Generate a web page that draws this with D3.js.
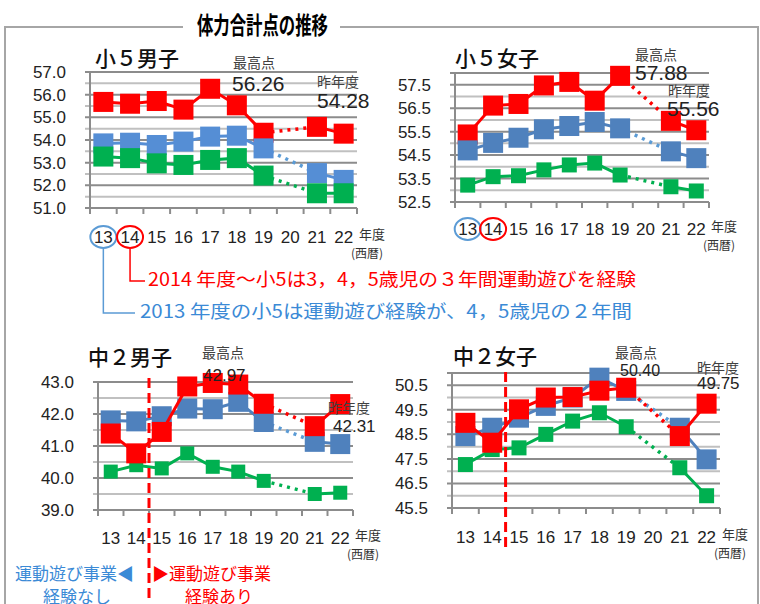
<!DOCTYPE html>
<html>
<head>
<meta charset="utf-8">
<script src="https://cdn.jsdelivr.net/npm/d3@7.9.0/dist/d3.min.js"></script>
<style>
  body { margin: 0; background: #fff; }
  svg { display: block; }
  text { font-family: "Liberation Sans", Arial, sans-serif; }
  .jp { font-family: "Noto Sans CJK JP", sans-serif; }
</style>
</head>
<body>
<svg id="chart" width="760" height="604"></svg>
<script>
// years (西暦 下2桁), 20 = no survey
const years = ['13', '14', '15', '16', '17', '18', '19', '20', '21', '22'];

// 小5男子
const e5BoysRed = [55.68, 55.6, 55.72, 55.34, 56.26, 55.53, 54.32, null, 54.58, 54.28];
const e5BoysBlue = [53.85, 53.88, 53.78, 53.93, 54.15, 54.19, 53.63, null, 52.54, 52.24];
const e5BoysGreen = [53.27, 53.2, 52.97, 52.9, 53.12, 53.2, 52.43, null, 51.65, 51.65];
// 小5女子
const e5GirlsRed = [55.38, 56.61, 56.68, 57.47, 57.62, 56.82, 57.88, null, 55.96, 55.56];
const e5GirlsBlue = [54.7, 55.02, 55.24, 55.6, 55.74, 55.91, 55.64, null, 54.66, 54.37];
const e5GirlsGreen = [53.22, 53.58, 53.62, 53.87, 54.08, 54.16, 53.65, null, 53.15, 52.97];
// 中2男子
const j2BoysRed = [41.39, 40.77, 41.44, 42.86, 42.97, 42.92, 42.32, null, 41.62, 42.31];
const j2BoysBlue = [41.8, 41.77, 41.93, 42.17, 42.15, 42.38, 41.75, null, 41.13, 41.06];
const j2BoysGreen = [40.2, 40.4, 40.3, 40.77, 40.35, 40.2, 39.91, null, 39.5, 39.54];
// 中2女子
const j2GirlsRed = [48.97, 48.16, 49.52, 50.0, 50.02, 50.28, 50.40, null, 48.43, 49.75];
const j2GirlsBlue = [48.43, 48.77, 49.18, 49.66, 50.0, 50.81, 50.27, null, 48.77, 47.48];
const j2GirlsGreen = [47.27, 47.88, 47.95, 48.5, 49.04, 49.38, 48.81, null, 47.14, 46.0];

// y axis labels per panel
const e5BoysTicks = [51, 52, 53, 54, 55, 56, 57];
const e5GirlsTicks = [52.5, 53.5, 54.5, 55.5, 56.5, 57.5];
const j2BoysTicks = [39, 40, 41, 42, 43];
const j2GirlsTicks = [45.5, 46.5, 47.5, 48.5, 49.5, 50.5];

const RED = '#ff0000', BLUE = '#4f81bd', GREEN = '#00b050';
const svg = d3.select('#chart');

// frame + title
const frame = svg.append('g').attr('stroke', '#a6a6a6').attr('stroke-width', 2).attr('fill', 'none');
frame.append('path').attr('d', 'M183,27 H5 V610');
frame.append('path').attr('d', 'M340,27 H758 V610');
svg.append('text').attr('class', 'jp')
  .attr('x', 197).attr('y', 34)
  .attr('font-size', 24).attr('font-weight', 'bold')
  .attr('textLength', 131).attr('lengthAdjust', 'spacingAndGlyphs')
  .text('体力合計点の推移');

const panels = [
  { title: '小５男子', red: e5BoysRed, blue: e5BoysBlue, green: e5BoysGreen, ticks: e5BoysTicks,
    domain: [51, 57], x0: 90, x1: 357, yTop: 72, yBot: 208, greenSize: 20, blueColor: '#558ed5',
    order: ['red', 'blue', 'green'], titleX: 95, titleY: 66, labelY: 243 },
  { title: '小５女子', red: e5GirlsRed, blue: e5GirlsBlue, green: e5GirlsGreen, ticks: e5GirlsTicks,
    domain: [52.5, 58], x0: 455, x1: 709, yTop: 73, yBot: 202, greenSize: 15, blueColor: BLUE,
    order: ['red', 'green', 'blue'], titleX: 455, titleY: 66, labelY: 235 },
  { title: '中２男子', red: j2BoysRed, blue: j2BoysBlue, green: j2BoysGreen, ticks: j2BoysTicks,
    domain: [39, 43], x0: 98, x1: 353, yTop: 382, yBot: 510, greenSize: 14, blueColor: BLUE,
    order: ['blue', 'green', 'red'], titleX: 88, titleY: 365, labelY: 544, split: [378, 600] },
  { title: '中２女子', red: j2GirlsRed, blue: j2GirlsBlue, green: j2GirlsGreen, ticks: j2GirlsTicks,
    domain: [45.5, 51], x0: 452, x1: 720, yTop: 373, yBot: 508, greenSize: 15, blueColor: BLUE,
    order: ['blue', 'green', 'red'], titleX: 453, titleY: 364, labelY: 543, split: [372, 552] }
];

function drawPanel(p) {
  const g = svg.append('g');
  const x = d3.scaleBand().domain(years).range([p.x0, p.x1]);
  const y = d3.scaleLinear().domain(p.domain).range([p.yBot, p.yTop]);

  // gridlines every 0.5
  const grid = d3.range(p.domain[0], p.domain[1] + 0.01, 0.5);
  g.selectAll('.grid').data(grid).join('line')
    .attr('x1', p.x0 - 5).attr('x2', p.x1)
    .attr('y1', d => y(d)).attr('y2', d => y(d))
    .attr('stroke', d => p.ticks.some(t => Math.abs(t - d) < 1e-6) || d === p.domain[1] ? '#8c8c8c' : '#c0c0c0')
    .attr('stroke-width', 2);

  // y axis line
  g.append('line').attr('x1', p.x0).attr('x2', p.x0).attr('y1', p.yTop).attr('y2', p.yBot)
    .attr('stroke', '#8c8c8c').attr('stroke-width', 2);
  // x axis line + boundary ticks
  g.append('line').attr('x1', p.x0).attr('x2', p.x1).attr('y1', p.yBot).attr('y2', p.yBot)
    .attr('stroke', '#8c8c8c').attr('stroke-width', 2);
  const bounds = years.map(d => x(d)).concat([p.x1]);
  g.selectAll('.xt').data(bounds).join('line')
    .attr('x1', d => d).attr('x2', d => d).attr('y1', p.yBot).attr('y2', p.yBot + 6)
    .attr('stroke', '#8c8c8c').attr('stroke-width', 2);

  // y tick labels
  g.selectAll('.yl').data(p.ticks).join('text')
    .attr('x', p.x0 - 24).attr('y', d => y(d) + 6)
    .attr('text-anchor', 'end').attr('font-size', 17).attr('fill', '#222')
    .text(d => d3.format('.1f')(d));

  // x labels
  g.selectAll('.xl').data(years).join('text')
    .attr('x', d => x(d) + x.bandwidth() / 2).attr('y', p.labelY)
    .attr('text-anchor', 'middle').attr('font-size', 17).attr('fill', '#222')
    .text(d => d);
  g.append('text').attr('class', 'jp').attr('x', p.x1 + 2).attr('y', p.labelY - 4)
    .attr('font-size', 13).attr('fill', '#333').text('年度');
  g.append('text').attr('class', 'jp').attr('x', p.x1 - 6).attr('y', p.labelY + 15)
    .attr('font-size', 12).attr('fill', '#333').text('(西暦)');

  // title
  g.append('text').attr('class', 'jp').attr('x', p.titleX).attr('y', p.titleY)
    .attr('font-size', 21).attr('font-weight', 500).attr('fill', '#111').text(p.title);

  const cx = d => x(d.year) + x.bandwidth() / 2;
  const series = {
    red: { vals: p.red, color: RED, size: 20 },
    blue: { vals: p.blue, color: p.blueColor, size: 20 },
    green: { vals: p.green, color: GREEN, size: p.greenSize }
  };

  p.order.forEach(key => {
    const s = series[key];
    const pts = years.map((yr, i) => ({ year: yr, v: s.vals[i] }));
    const line = d3.line().defined(d => d.v != null).x(cx).y(d => y(d.v));
    // dotted bridge 19 -> 21
    const bridge = pts.filter(d => d.year === '19' || d.year === '21');
    g.append('path').attr('d', d3.line().x(cx).y(d => y(d.v))(bridge))
      .attr('fill', 'none').attr('stroke', key === 'blue' ? '#5b9bd5' : s.color)
      .attr('stroke-width', 3.5).attr('stroke-dasharray', '3,5');
    g.append('path').attr('d', line(pts))
      .attr('fill', 'none').attr('stroke', s.color).attr('stroke-width', 3);
    g.selectAll('.m' + key).data(pts.filter(d => d.v != null)).join('rect')
      .attr('x', d => cx(d) - s.size / 2).attr('y', d => y(d.v) - s.size / 2)
      .attr('width', s.size).attr('height', s.size)
      .attr('fill', s.color);
  });

  if (p.split) {
    const sx = x('15');
    g.append('line').attr('x1', sx).attr('x2', sx).attr('y1', p.split[0]).attr('y2', p.split[1])
      .attr('stroke', RED).attr('stroke-width', 3).attr('stroke-dasharray', '10,5');
  }
  return { x, y };
}

const scales = panels.map(drawPanel);

// annotations: 最高点 / 昨年度
function note(x0, y0, label, value, valSize, lx, ly) {
  svg.append('text').attr('class', 'jp').attr('x', x0).attr('y', y0)
    .attr('font-size', 14).attr('fill', '#404040').text(label);
  svg.append('text').attr('x', lx).attr('y', ly)
    .attr('font-size', valSize).attr('fill', '#222').text(value);
}
note(233, 68, '最高点', '56.26', 21, 232, 91);
note(317, 87, '昨年度', '54.28', 21, 317, 108);
note(635, 60, '最高点', '57.88', 21, 635, 80);
note(668, 96, '昨年度', '55.56', 21, 667, 116);
note(202, 358, '最高点', '42.97', 17, 203, 381);
note(328, 413, '昨年度', '42.31', 17, 333, 432);
note(615, 358, '最高点', '50.40', 16, 620, 376);
note(697, 373, '昨年度', '49.75', 17, 697, 389);

// circles around 13 / 14 in 小5 panels
[0, 1].forEach(i => {
  const { x } = scales[i];
  const cy = panels[i].labelY - 6;
  svg.append('ellipse').attr('cx', x('13') + x.bandwidth() / 2).attr('cy', cy)
    .attr('rx', 13).attr('ry', 11).attr('fill', 'none').attr('stroke', '#5b9bd5').attr('stroke-width', 2);
  svg.append('ellipse').attr('cx', x('14') + x.bandwidth() / 2).attr('cy', cy)
    .attr('rx', 13).attr('ry', 11).attr('fill', 'none').attr('stroke', RED).attr('stroke-width', 2);
});

// connectors + explanation
const x1 = scales[0].x;
const c13 = x1('13') + x1.bandwidth() / 2, c14 = x1('14') + x1.bandwidth() / 2;
svg.append('path').attr('d', `M${c14},249 V281 H145`).attr('fill', 'none').attr('stroke', RED).attr('stroke-width', 1.5);
svg.append('path').attr('d', `M${c13},249 V313 H135`).attr('fill', 'none').attr('stroke', '#5b9bd5').attr('stroke-width', 1.5);
svg.append('text').attr('class', 'jp').attr('x', 148).attr('y', 286)
  .attr('font-size', 18).attr('fill', RED)
  .attr('textLength', 488).attr('lengthAdjust', 'spacingAndGlyphs')
  .text('2014 年度～小5は3，4，5歳児の３年間運動遊びを経験');
svg.append('text').attr('class', 'jp').attr('x', 140).attr('y', 318)
  .attr('font-size', 18).attr('fill', '#3b8ad6')
  .attr('textLength', 492).attr('lengthAdjust', 'spacingAndGlyphs')
  .text('2013 年度の小5は運動遊び経験が、4，5歳児の２年間');

// 運動遊び事業 labels
svg.append('text').attr('class', 'jp').attr('x', 15).attr('y', 580).attr('font-size', 17).attr('fill', '#3b8ad6').text('運動遊び事業◀');
svg.append('text').attr('class', 'jp').attr('x', 43).attr('y', 603).attr('font-size', 17).attr('fill', '#3b8ad6').text('経験なし');
svg.append('text').attr('class', 'jp').attr('x', 152).attr('y', 580).attr('font-size', 17).attr('fill', RED).text('▶運動遊び事業');
svg.append('text').attr('class', 'jp').attr('x', 185).attr('y', 603).attr('font-size', 17).attr('fill', RED).text('経験あり');
</script>
</body>
</html>
